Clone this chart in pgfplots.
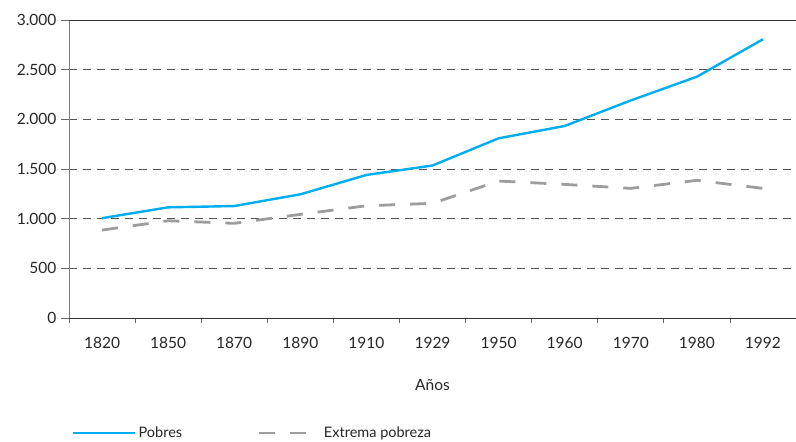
\documentclass[border=0pt]{standalone}
\usepackage{pgfplots}
\pgfplotsset{compat=1.18}
\usepackage{fontspec}
\setmainfont{Lato}
\definecolor{pobres}{HTML}{00AEEF}
\definecolor{extrema}{HTML}{9D9DA0}
\definecolor{gridc}{HTML}{555555}
\begin{document}
\begin{tikzpicture}
\path[use as bounding box] (0,0) rectangle (796pt,442pt);
\begin{axis}[
  at={(69pt,124pt)}, anchor=south west,
  scale only axis, width=727pt, height=298pt,
  xmin=-0.5, xmax=10.5, ymin=0, ymax=3000,
  axis lines*=left,
  x axis line style={draw=black!80, line width=0.8pt},
  y axis line style={draw=black!50, line width=0.8pt},
  xtick={0,...,10},
  xticklabels={1820,1850,1870,1890,1910,1929,1950,1960,1970,1980,1992},
  minor xtick={-0.5,0.5,...,10.5},
  major x tick style={draw=none},
  minor x tick style={draw=black!60, line width=0.8pt},
  tick align=outside,
  minor tick length=5pt,
  major tick length=8pt,
  ytick={0,500,...,2500},
  y tick style={draw=black!60, line width=0.8pt},
  ymajorgrids,
  grid style={gridc, dash pattern=on 8pt off 6pt, line width=0.8pt},
  extra y ticks={3000},
  extra y tick style={grid style={solid, black!80, line width=0.8pt}},
  scaled y ticks=false,
  /pgf/number format/1000 sep={.},
  /pgf/number format/assume math mode=true,
  ticklabel style={font=\fontsize{15.5}{18}\selectfont, text=black!85},
  xticklabel style={yshift=-8pt},
  yticklabel style={xshift=-1pt},
  xlabel={Años},
  xlabel style={font=\fontsize{15.5}{18}\selectfont, text=black!85, yshift=-24pt},
  legend columns=2,
  legend style={at={(axis description cs:0,0)}, anchor=west, xshift=3pt, yshift=-115pt,
    draw=none, fill=none, inner sep=0pt,
    font=\fontsize{14.5}{17}\selectfont, text=black!85,
    /tikz/every even column/.append style={column sep=73pt}},
  legend cell align=left,
  legend image code/.code={\draw[#1] (0pt,0pt) -- (59pt,0pt); \path (0pt,0pt) -- (62pt,0pt);},
]
\addplot[pobres, line width=2.4pt, line join=round] coordinates {
(0,1005) (1,1114) (2,1127) (3,1245) (4,1440) (5,1535) (6,1809) (7,1933) (8,2190) (9,2429) (10,2806)};
\addlegendentry{Pobres}
\addplot[extrema, line width=2.8pt, dash pattern=on 16pt off 15pt] coordinates {
(0,885) (1,979) (2,953) (3,1043) (4,1130) (5,1154) (6,1379) (7,1345) (8,1305) (9,1386) (10,1305)};
\addlegendentry{Extrema pobreza}
\end{axis}
\end{tikzpicture}
\end{document}
